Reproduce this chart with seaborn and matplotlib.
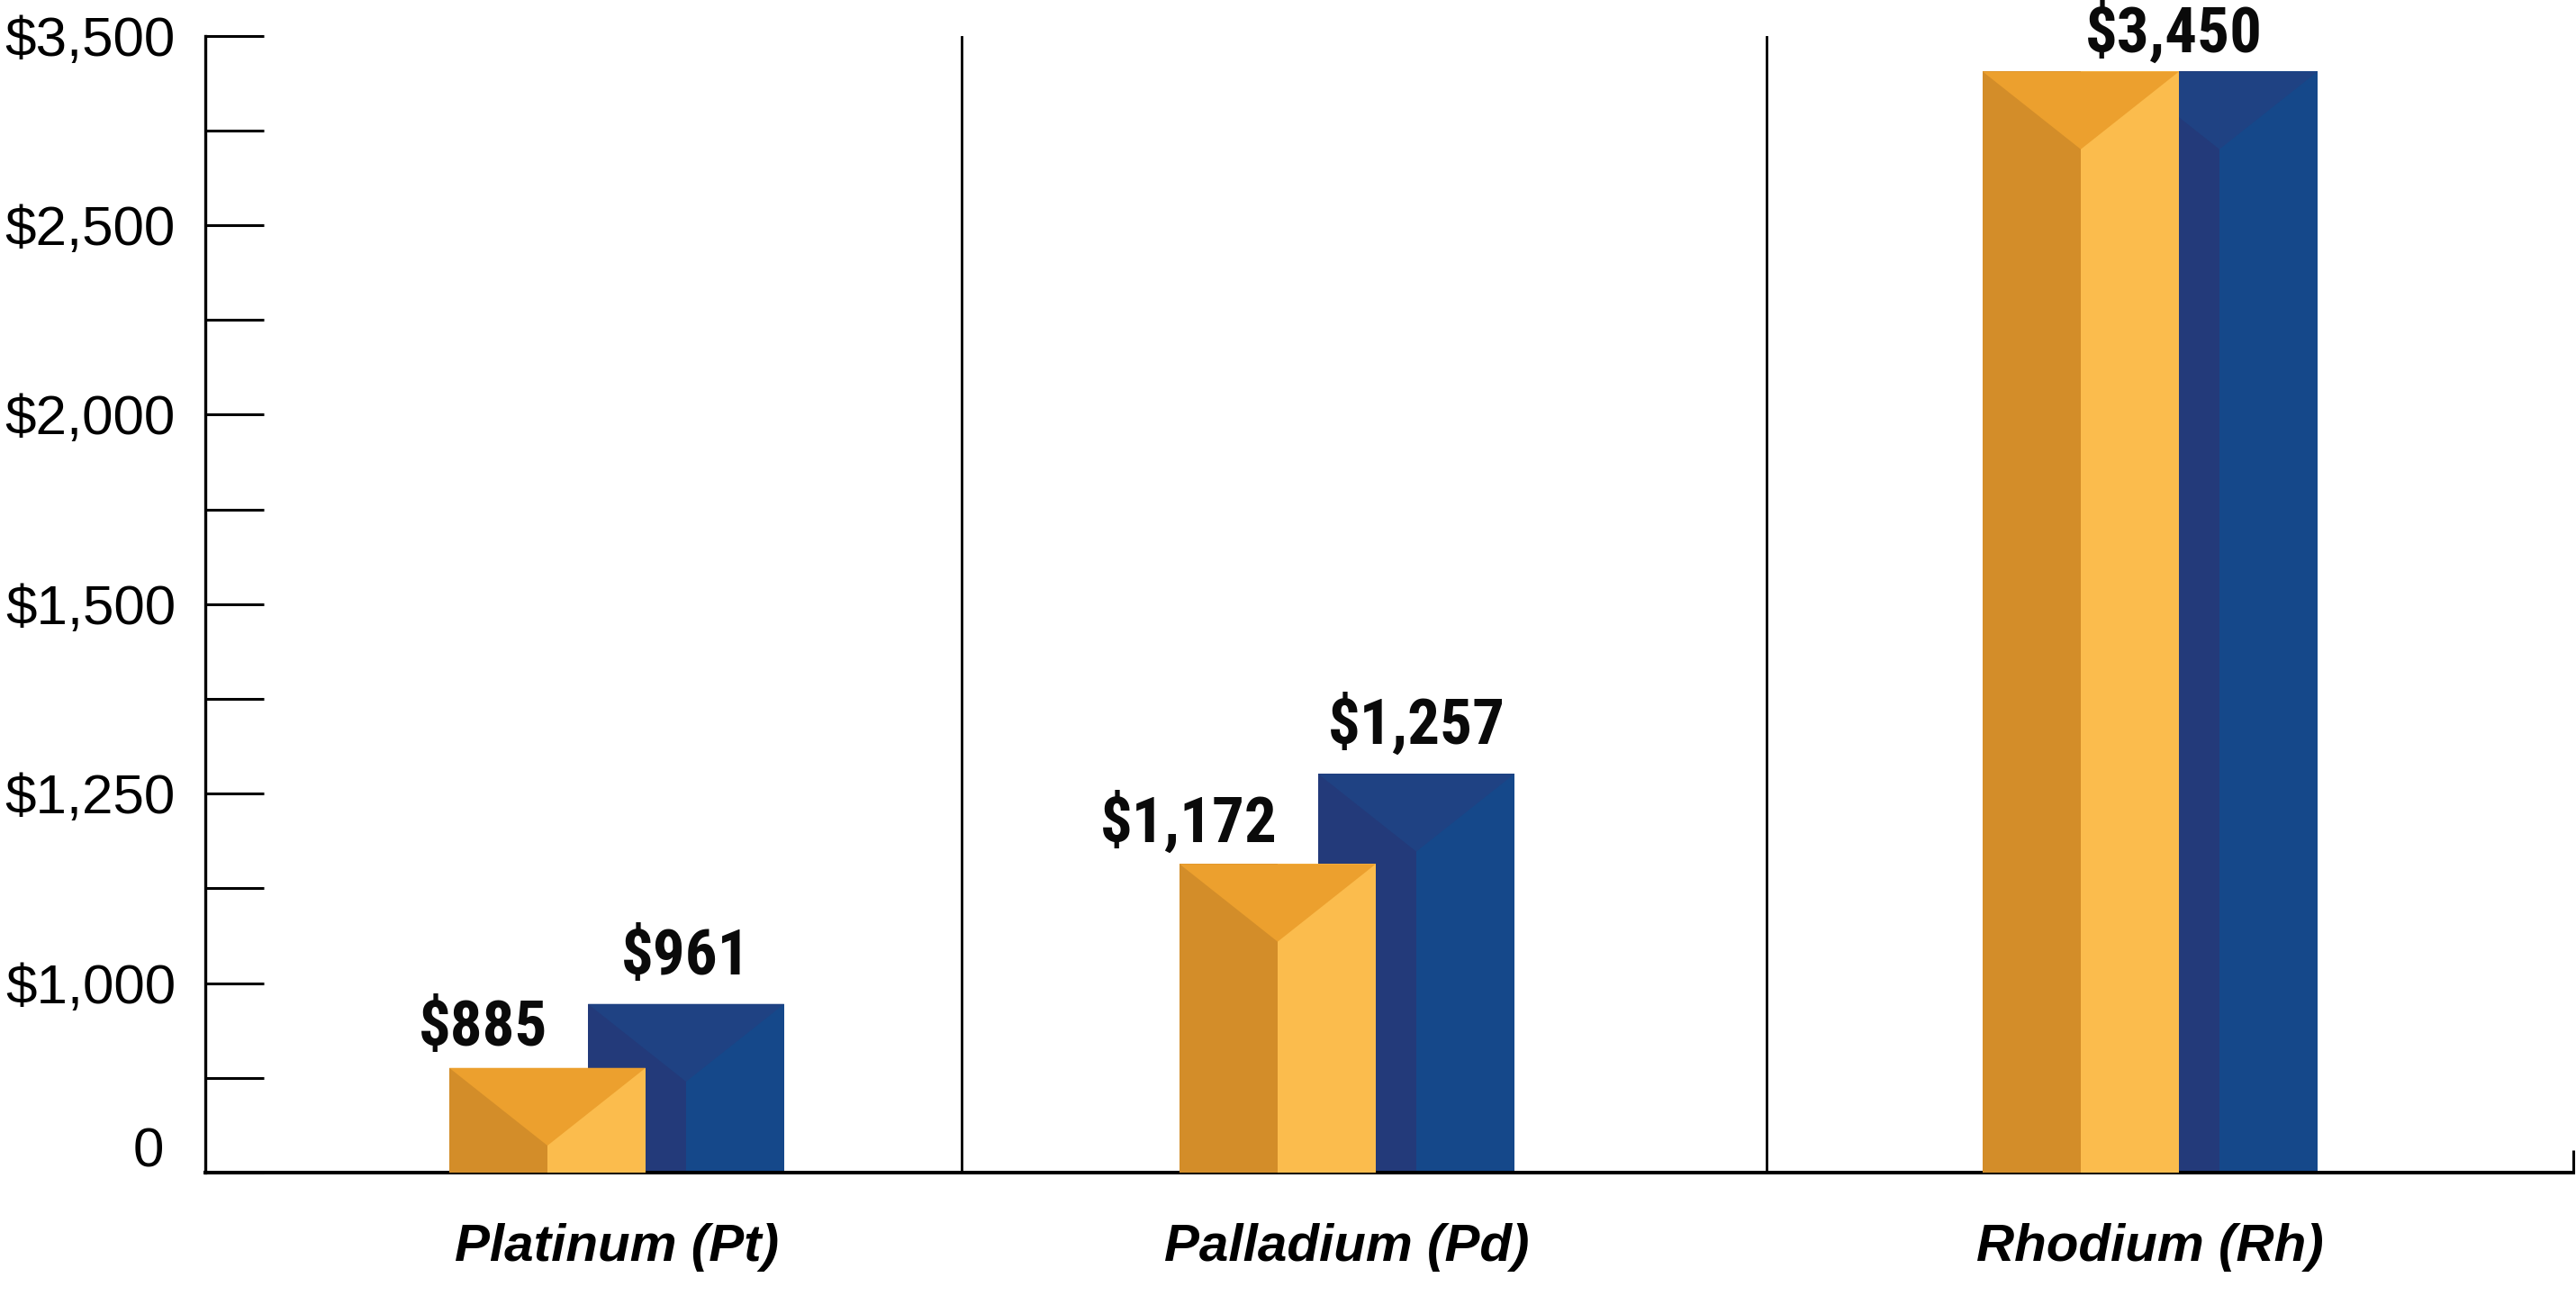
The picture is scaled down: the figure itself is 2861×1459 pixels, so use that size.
import numpy as np
import pandas as pd
import matplotlib
matplotlib.use("Agg")
import matplotlib.pyplot as plt
import seaborn as sns
from matplotlib import font_manager as fm
from matplotlib.transforms import ScaledTranslation

# ---------------- data ----------------
metals = ["Platinum (Pt)", "Palladium (Pd)", "Rhodium (Rh)"]
gold_values = [885, 1172, 3450]
blue_values = [961, 1257, 3450]
gold_labels = ["$885", "$1,172", "$3,450"]
blue_labels = ["$961", "$1,257", "$3,450"]
ytick_values = [0, 1000, 1250, 1500, 2000, 2500, 3500]
ytick_labels = ["0", "$1,000", "$1,250", "$1,500", "$2,000", "$2,500", "$3,500"]

# The picture's value axis is not linear: evenly spaced labels, and values
# placed on it as drawn. Scale = value -> position (in tick steps).
axis_values = [0, 885, 961, 1000, 1172, 1250, 1257, 1500, 2000, 2500, 3450, 3500]
axis_steps = [0, 1.105, 1.78, 2, 3.257, 4, 4.208, 6, 8, 10, 11.62, 12]

# ---------------- layout / style ----------------
DPI = 100
W, H = 2861, 1459
AX_L, AX_R, AX_T, AX_B = 228, 2858, 39.5, 1302
group_left = [271, 1082, 1974]      # x offset (px) of each gold bar
BAR_W = 218
BLUE_SHIFT = 154
separators = [840, 1734]
CAP_DEPTH = 0.82                    # depth of the top bevel, in tick steps
PT = 0.72                           # px -> pt at 100 dpi

GOLD_DARK, GOLD_LIGHT, GOLD_TOP = "#D38D29", "#FBBC4D", "#ECA02E"
BLUE_DARK, BLUE_LIGHT, BLUE_TOP = "#233A7A", "#15488A", "#1F4283"

sns.set_theme(style="white")
plt.rcParams["font.family"] = ["Liberation Sans", "DejaVu Sans"]

available = {f.name for f in fm.fontManager.ttflist}
def pick(*cands):
    for c in cands:
        if c in available:
            return c
    return "DejaVu Sans"
NARROW = pick("Liberation Sans Narrow", "Roboto Condensed", "Open Sans Condensed", "DejaVu Sans")

av = np.asarray(axis_values, float)
ast = np.asarray(axis_steps, float)

def _pw(v, xs, ys):
    v = np.asarray(v, float)
    out = np.interp(v, xs, ys)
    lo = (ys[1] - ys[0]) / (xs[1] - xs[0])
    hi = (ys[-1] - ys[-2]) / (xs[-1] - xs[-2])
    out = np.where(v < xs[0], ys[0] + (v - xs[0]) * lo, out)
    out = np.where(v > xs[-1], ys[-1] + (v - xs[-1]) * hi, out)
    return out

def fwd(v):
    return _pw(v, av, ast)

def inv(s):
    return _pw(s, ast, av)

# ---------------- figure ----------------
fig = plt.figure(figsize=(W / DPI, H / DPI), dpi=DPI)
ax = fig.add_axes([AX_L / W, 1 - AX_B / H, (AX_R - AX_L) / W, (AX_B - AX_T) / H])

left = np.asarray(group_left, float)
half = BAR_W / 2

def draw_series(lefts, values, dark, light, z):
    lefts = np.asarray(lefts, float)
    for centers, col in ((lefts + half / 2, dark), (lefts + 1.5 * half, light)):
        df = pd.DataFrame({"x": centers, "y": values})
        spacing = np.min(np.diff(np.sort(centers)))
        sns.barplot(data=df, x="x", y="y", native_scale=True, orient="x",
                    width=half / spacing, color=col, saturation=1,
                    errorbar=None, linewidth=0, edgecolor="none", zorder=z, ax=ax)

draw_series(left + BLUE_SHIFT, blue_values, BLUE_DARK, BLUE_LIGHT, 2)
draw_series(left, gold_values, GOLD_DARK, GOLD_LIGHT, 3)

ax.set_yscale("function", functions=(fwd, inv))

# bevelled tops
def draw_caps(lefts, values, col, z):
    for l, v in zip(lefts, values):
        vtx = float(inv(fwd(v) - CAP_DEPTH))
        ax.fill([l, l + BAR_W, l + half], [v, v, vtx], color=col, lw=0, zorder=z)

draw_caps(left + BLUE_SHIFT, blue_values, BLUE_TOP, 2.1)
draw_caps(left, gold_values, GOLD_TOP, 3.1)

ax.set_xlim(0, AX_R - AX_L)
ax.set_ylim(ytick_values[0], ytick_values[-1])
ax.set_xlabel("")
ax.set_ylabel("")

# value labels
val_kw = dict(textcoords="offset points", va="baseline", fontsize=51,
              fontweight="bold", family=[NARROW, "DejaVu Sans"],
              fontstretch="condensed", color="#0a0a0a", zorder=5)
for l, g, b, gl, bl in zip(left, gold_values, blue_values, gold_labels, blue_labels):
    if g == b:
        ax.annotate(gl, (l + BAR_W, g), xytext=(-6 * PT, 22 * PT), ha="center", **val_kw)
    else:
        ax.annotate(gl, (l + half, g), xytext=(0, 25 * PT), ha="right", **val_kw)
        ax.annotate(bl, (l + BLUE_SHIFT + half, b), xytext=(0, 33 * PT), ha="center", **val_kw)

# separators
for s in separators:
    ax.axvline(s, color="black", lw=2.0, zorder=1)

# small end tick at the right of the baseline
ax.plot([1, 1], [0, 25 / (AX_B - AX_T)], transform=ax.transAxes, color="black",
        lw=2.2, clip_on=False, solid_capstyle="butt")

# spines
sns.despine(ax=ax, top=True, right=True)
ax.spines["left"].set_linewidth(2.4)
ax.spines["bottom"].set_linewidth(2.9)
ax.spines["left"].set_color("black")
ax.spines["bottom"].set_color("black")

# y ticks: every step, labels on even steps
n_steps = 2 * (len(ytick_values) - 1)
all_steps = np.arange(0, n_steps + 1)
ax.set_yticks(inv(all_steps))
ax.set_yticklabels([ytick_labels[s // 2] if s % 2 == 0 else "" for s in all_steps])
ax.yaxis.set_minor_locator(matplotlib.ticker.NullLocator())
ax.tick_params(axis="y", which="major", direction="in", length=65 * PT, width=2.2,
               pad=33 * PT, labelsize=44.6, colors="black", left=True)
for lab in ax.get_yticklabels():
    if lab.get_text() == "0":
        lab.set_transform(lab.get_transform() + ScaledTranslation(-13 / DPI, 29 / DPI, fig.dpi_scale_trans))

# x tick labels (categories)
ax.set_xticks(left + (BAR_W + BLUE_SHIFT) / 2)
ax.set_xticklabels(metals, fontsize=42, fontweight="bold", fontstyle="italic")
ax.tick_params(axis="x", length=0, pad=40, colors="black")
ax.grid(False)

fig.savefig("out.png", dpi=DPI, facecolor="white")
